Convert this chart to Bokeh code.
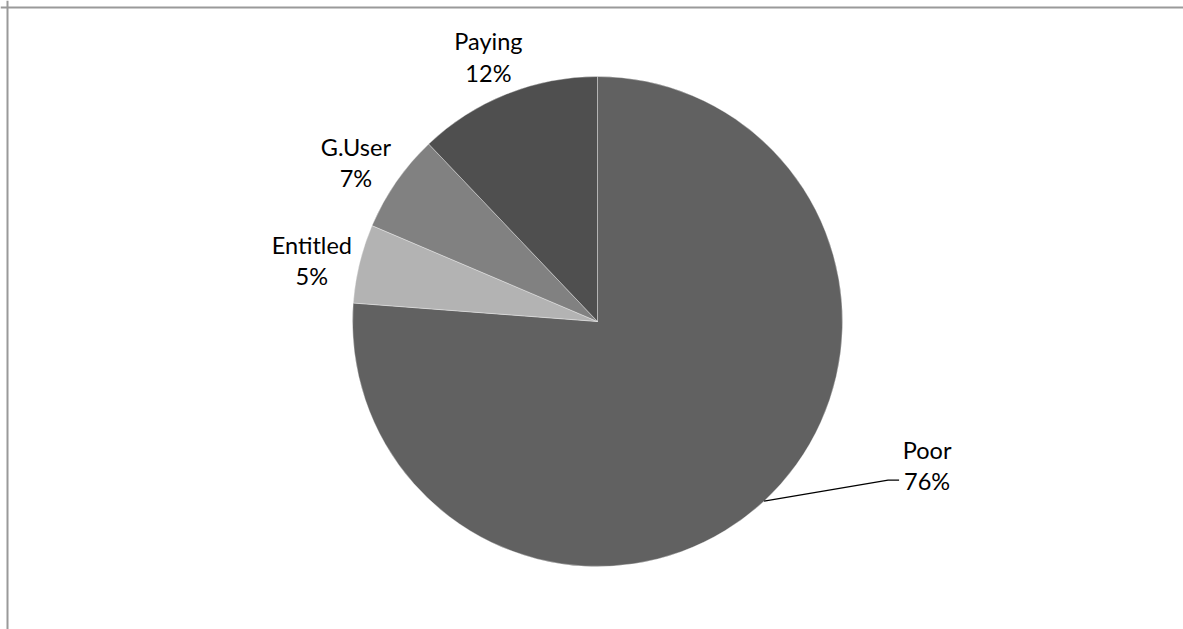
import math
from bokeh.plotting import figure
from bokeh.models import Range1d, Span, ColumnDataSource
from bokeh.core.properties import value
from bokeh.embed import file_html
from bokeh.resources import INLINE

# ---- data ----
categories = ["Poor", "Entitled", "G.User", "Paying"]
shares = [76.2, 5.2, 6.5, 12.1]
pct_labels = ["76%", "5%", "7%", "12%"]
colors = ["#616161", "#b3b3b3", "#818181", "#4f4f4f"]

# ---- layout constants (page pixels, y negated) ----
W, H = 1183, 629
CX, CY, R = 597, -321, 245
LABEL_R = 294
FONT = value("Lato")
FSIZE = value("23.5px")

p = figure(width=W, height=H, output_backend="svg", toolbar_location=None,
           x_range=Range1d(0, W), y_range=Range1d(-H, 0),
           x_axis_type=None, y_axis_type=None, min_border=0,
           outline_line_color=None, background_fill_color="white",
           border_fill_color="white")
p.grid.visible = False

total = sum(shares)
starts, ends, mids = [], [], []
cum = 0.0
for s in shares:
    a0 = math.pi / 2 - 2 * math.pi * cum / total
    cum += s
    a1 = math.pi / 2 - 2 * math.pi * cum / total
    starts.append(a0)
    ends.append(a1)
    mids.append((a0 + a1) / 2)

src = ColumnDataSource(dict(x=[CX] * len(shares), y=[CY] * len(shares),
                            start=starts, end=ends, color=colors,
                            cat=categories))
p.wedge(x="x", y="y", radius=R, start_angle="start", end_angle="end",
        direction="clock", fill_color="color", line_color="white",
        line_alpha=0.35, line_width=1, source=src)

# labels
lx, l1y, l2y, t1, t2 = [], [], [], [], []
for i, cat in enumerate(categories):
    m = mids[i]
    if i == 0:
        ex, ey = CX + R * math.cos(m), CY + R * math.sin(m)
        ax, ay = ex + 163, ey + 44.5
        p.line([ex, ax - 39, ax - 28], [ey, ay - 23.5, ay - 23.5],
               line_color="black", line_width=1.3)
    else:
        ax, ay = CX + LABEL_R * math.cos(m), CY + LABEL_R * math.sin(m)
    lx.append(ax)
    l1y.append(ay + 7)
    l2y.append(ay - 24.5)
    t1.append(cat)
    t2.append(pct_labels[i])

lab = ColumnDataSource(dict(x=lx, y1=l1y, y2=l2y, t1=t1, t2=t2))
for ycol, tcol in (("y1", "t1"), ("y2", "t2")):
    p.text(x="x", y=ycol, text=tcol, source=lab, text_font=FONT,
           text_font_size=FSIZE, text_align="center",
           text_baseline="alphabetic", text_color="#000000")

# chart-area frame (left and top edges visible)
p.add_layout(Span(location=7, dimension="height", line_color="#9a9a9a",
                  line_width=2))
p.add_layout(Span(location=-7, dimension="width", line_color="#9a9a9a",
                  line_width=2))

open("out.html", "w").write(file_html(p, INLINE))
